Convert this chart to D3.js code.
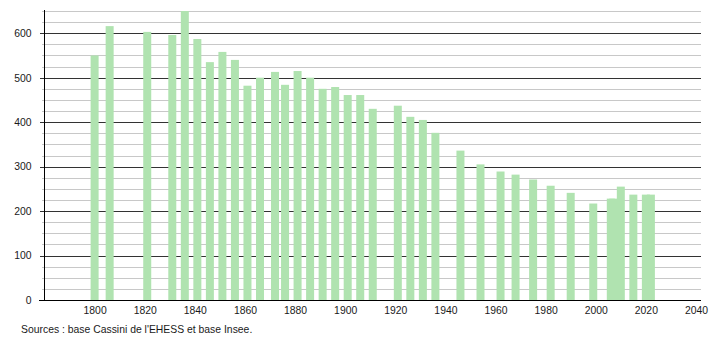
<!DOCTYPE html>
<html>
<head>
<meta charset="utf-8">
<script src="https://cdn.jsdelivr.net/npm/d3@7/dist/d3.min.js"></script>
<style>
  body { margin: 0; background: #fff; }
  svg text { font-family: "Liberation Sans", Arial, sans-serif; font-size: 10.4px; fill: #1a1a1a; }
</style>
</head>
<body>
<svg id="chart" width="710" height="340"></svg>
<script>
// census years and population
var years = [1800, 1806, 1821, 1831, 1836, 1841, 1846, 1851, 1856, 1861, 1866, 1872, 1876,
             1881, 1886, 1891, 1896, 1901, 1906, 1911, 1921, 1926, 1931, 1936, 1946, 1954,
             1962, 1968, 1975, 1982, 1990, 1999, 2006, 2007, 2010, 2015, 2020, 2022];
var population = [550, 616, 603, 596, 650, 587, 535, 558, 540, 482, 500, 513, 484,
                  515, 500, 475, 479, 461, 461, 430, 437, 412, 405, 376, 336, 305,
                  289, 282, 271, 257, 241, 217, 228, 228, 255, 237, 237, 237];
var yearTicks = [1800, 1820, 1840, 1860, 1880, 1900, 1920, 1940, 1960, 1980, 2000, 2020, 2040];
var majorTicks = [0, 100, 200, 300, 400, 500, 600];
var minorTicks = d3.range(25, 651, 25).filter(function(v) { return v % 100 != 0; });
var source = "Sources : base Cassini de l'EHESS et base Insee.";

var svg = d3.select("#chart");

var x = d3.scaleLinear().domain([1780, 2042]).range([44.5, 701]);
var y = d3.scaleLinear().domain([0, 650]).range([300, 11]);

var barW = 8;

// minor grid (gray)
svg.append("g").selectAll("line")
  .data(minorTicks)
  .enter().append("line")
  .attr("x1", 42).attr("x2", 701)
  .attr("y1", function(d) { return Math.round(y(d)) + 0.5; })
  .attr("y2", function(d) { return Math.round(y(d)) + 0.5; })
  .style("stroke", "#c8c8c8");

// major grid (dark)
svg.append("g").selectAll("line")
  .data(majorTicks)
  .enter().append("line")
  .attr("x1", 40).attr("x2", 701)
  .attr("y1", function(d) { return Math.round(y(d)) + 0.5; })
  .attr("y2", function(d) { return Math.round(y(d)) + 0.5; })
  .style("stroke", function(d) { return d == 0 ? "#000" : "#333"; });

// bars
svg.append("g").selectAll("rect")
  .data(years)
  .enter().append("rect")
  .attr("x", function(d) { return x(d) - barW / 2; })
  .attr("width", barW)
  .attr("y", function(d, i) { return y(population[i]); })
  .attr("height", function(d, i) { return y(0) - y(population[i]); })
  .style("fill", "#b0e3b0");

// re-draw the baseline on top of the bars
svg.append("line")
  .attr("x1", 39).attr("x2", 701)
  .attr("y1", 300.5).attr("y2", 300.5)
  .style("stroke", "#000");

// left axis line + labels
svg.append("line")
  .attr("x1", 44.5).attr("x2", 44.5)
  .attr("y1", 10).attr("y2", 300.5)
  .style("stroke", "#000");

var yAxis = d3.axisLeft(y).tickValues(majorTicks).tickSize(0).tickPadding(13);
svg.append("g")
  .attr("transform", "translate(44.5,0)")
  .call(yAxis)
  .call(function(g) { g.select(".domain").remove(); })
  .selectAll("text")
  .style("font-size", "10.4px")
  .style("font-family", "Liberation Sans, Arial, sans-serif")
  .attr("fill", "#1a1a1a");

// bottom labels
var xAxis = d3.axisBottom(x).tickValues(yearTicks).tickFormat(d3.format("d")).tickSize(0).tickPadding(7);
svg.append("g")
  .attr("transform", "translate(0,300)")
  .call(xAxis)
  .call(function(g) { g.select(".domain").remove(); })
  .selectAll("text")
  .style("font-size", "10.4px")
  .style("font-family", "Liberation Sans, Arial, sans-serif")
  .attr("fill", "#1a1a1a");

svg.append("text")
  .attr("x", 21)
  .attr("y", 333)
  .text(source);
</script>
</body>
</html>
